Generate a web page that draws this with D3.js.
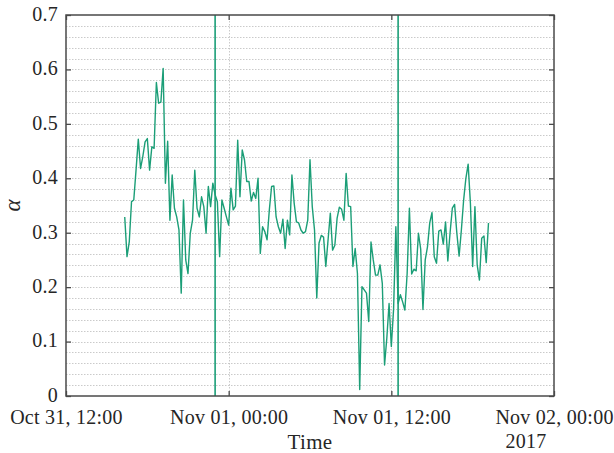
<!DOCTYPE html>
<html>
<head>
<meta charset="utf-8">
<script src="https://cdn.jsdelivr.net/npm/d3@7"></script>
<style>
  html, body { margin: 0; padding: 0; background: #fff; }
  svg { display: block; }
  text { font-family: "Liberation Serif", "Times New Roman", serif; fill: #262626; }
</style>
</head>
<body>
<svg id="chart" width="614" height="453"></svg>
<script>
// ---- data ----
const startTime = "2017-10-31T16:20:00Z";   // first sample
const stepMinutes = 10;                      // sampling interval
const alphaValues = [
  0.329, 0.256, 0.283, 0.357, 0.360, 0.415, 0.472, 0.418, 0.440, 0.467,
  0.473, 0.415, 0.458, 0.455, 0.576, 0.538, 0.540, 0.602, 0.391, 0.468,
  0.323, 0.406, 0.345, 0.329, 0.305, 0.189, 0.360, 0.250, 0.225, 0.299,
  0.323, 0.415, 0.345, 0.329, 0.366, 0.348, 0.299, 0.385, 0.348, 0.391,
  0.370, 0.357, 0.256, 0.360, 0.345, 0.329, 0.314, 0.382, 0.342, 0.349,
  0.470, 0.366, 0.452, 0.434, 0.394, 0.394, 0.358, 0.374, 0.363, 0.400,
  0.262, 0.311, 0.302, 0.287, 0.342, 0.385, 0.386, 0.329, 0.311, 0.299,
  0.325, 0.271, 0.323, 0.296, 0.406, 0.354, 0.320, 0.318, 0.305, 0.299,
  0.302, 0.323, 0.434, 0.348, 0.305, 0.180, 0.281, 0.295, 0.292, 0.238,
  0.287, 0.336, 0.268, 0.277, 0.327, 0.347, 0.343, 0.323, 0.409, 0.349,
  0.348, 0.238, 0.271, 0.225, 0.012, 0.201, 0.195, 0.189, 0.137, 0.283,
  0.250, 0.222, 0.222, 0.241, 0.207, 0.057, 0.106, 0.170, 0.091, 0.160,
  0.311, 0.170,
  0.186, 0.173, 0.158, 0.225, 0.345, 0.224, 0.233, 0.230, 0.299, 0.270,
  0.159, 0.250, 0.274, 0.318, 0.337, 0.256, 0.244, 0.303, 0.305, 0.279,
  0.320, 0.248, 0.300, 0.345, 0.352, 0.299, 0.257, 0.305, 0.360, 0.400,
  0.426, 0.354, 0.238, 0.348, 0.241, 0.213, 0.290, 0.294, 0.245, 0.318
];
const markerTimes = ["2017-10-31T23:00:00Z", "2017-11-01T12:30:00Z"];
const xDomain = ["2017-10-31T12:00:00Z", "2017-11-02T00:00:00Z"];
const xTickTimes = ["2017-10-31T12:00:00Z", "2017-11-01T00:00:00Z", "2017-11-01T12:00:00Z", "2017-11-02T00:00:00Z"];
const yTicks = [0, 0.1, 0.2, 0.3, 0.4, 0.5, 0.6, 0.7];
const yMinorStep = 0.02;
const yMax = 0.7;
const xLabel = "Time";
const yLabel = "α";
const yearLabel = "2017";

// ---- layout ----
const m = { left: 66, right: 554, top: 15, bottom: 396 };
const lineColor = "#1b9e77";
const svg = d3.select("#chart");

const start = new Date(startTime);
const series = alphaValues.map((v, i) => ({ t: d3.utcMinute.offset(start, i * stepMinutes), v }));

const x = d3.scaleUtc().domain(xDomain.map(d => new Date(d))).range([m.left, m.right]);
const y = d3.scaleLinear().domain([0, yMax]).range([m.bottom, m.top]);

// grid
const minor = d3.range(1, Math.round(yMax / yMinorStep)).map(i => +(i * yMinorStep).toFixed(2));
const grid = svg.append("g").attr("stroke", "#bdbdbd").attr("stroke-width", 0.8).attr("stroke-dasharray", "1.5,1.5");
grid.selectAll("line.h").data(minor).join("line").attr("class", "h")
  .attr("x1", m.left).attr("x2", m.right)
  .attr("y1", d => Math.round(y(d)) + 0.5).attr("y2", d => Math.round(y(d)) + 0.5);
const xTicks = xTickTimes.map(d => new Date(d));
grid.selectAll("line.v").data(xTicks.slice(1, -1)).join("line").attr("class", "v")
  .attr("x1", d => Math.round(x(d)) + 0.5).attr("x2", d => Math.round(x(d)) + 0.5)
  .attr("y1", m.top).attr("y2", m.bottom);

// data line
svg.append("path").datum(series)
  .attr("fill", "none").attr("stroke", lineColor).attr("stroke-width", 1.4)
  .attr("stroke-linejoin", "round")
  .attr("d", d3.line().x(d => x(d.t)).y(d => y(d.v)));

// marker lines
svg.selectAll("line.marker").data(markerTimes.map(d => new Date(d))).join("line").attr("class", "marker")
  .attr("x1", d => x(d)).attr("x2", d => x(d))
  .attr("y1", m.top).attr("y2", m.bottom)
  .attr("stroke", lineColor).attr("stroke-width", 1.6);

// axes
const axisColor = "#4a4a4a";
const yFmt = d => d === 0 ? "0" : d3.format(".1f")(d);
const gy = svg.append("g").attr("transform", `translate(${m.left},0)`)
  .call(d3.axisLeft(y).tickValues(yTicks).tickFormat(yFmt).tickSize(-5).tickPadding(8));
gy.selectAll("text").attr("dy", "0.27em");
const gyr = svg.append("g").attr("transform", `translate(${m.right},0)`)
  .call(d3.axisRight(y).tickValues(yTicks).tickFormat("").tickSize(-5));
const xFmt = d3.utcFormat("%b %d, %H:%M");
const gx = svg.append("g").attr("transform", `translate(0,${m.bottom})`)
  .call(d3.axisBottom(x).tickValues(xTicks).tickFormat(xFmt).tickSize(-5).tickPadding(13.5));
const gxt = svg.append("g").attr("transform", `translate(0,${m.top})`)
  .call(d3.axisTop(x).tickValues(xTicks).tickFormat("").tickSize(-5));
[gy, gyr, gx, gxt].forEach(g => {
  g.select(".domain").remove();
  g.selectAll(".tick line").attr("stroke", axisColor).attr("stroke-width", 1.3);
  g.selectAll("text").attr("font-size", 20).attr("fill", "#262626")
    .attr("letter-spacing", 0.25)
    .style("font-family", '"Liberation Serif", serif');
});

// frame
svg.append("rect").attr("x", m.left).attr("y", m.top)
  .attr("width", m.right - m.left).attr("height", m.bottom - m.top)
  .attr("fill", "none").attr("stroke", axisColor).attr("stroke-width", 1.5);

// labels
svg.append("text").attr("x", (m.left + m.right) / 2).attr("y", 449)
  .attr("text-anchor", "middle").attr("font-size", 21).attr("letter-spacing", 0.4).text(xLabel);
svg.append("text").attr("x", 526).attr("y", 448)
  .attr("text-anchor", "middle").attr("font-size", 20).attr("letter-spacing", 0.25).text(yearLabel);
svg.append("text").attr("transform", `translate(20,${(m.top + m.bottom) / 2}) rotate(-90)`)
  .attr("text-anchor", "middle").attr("font-size", 23).attr("font-style", "italic").text(yLabel);
</script>
</body>
</html>
